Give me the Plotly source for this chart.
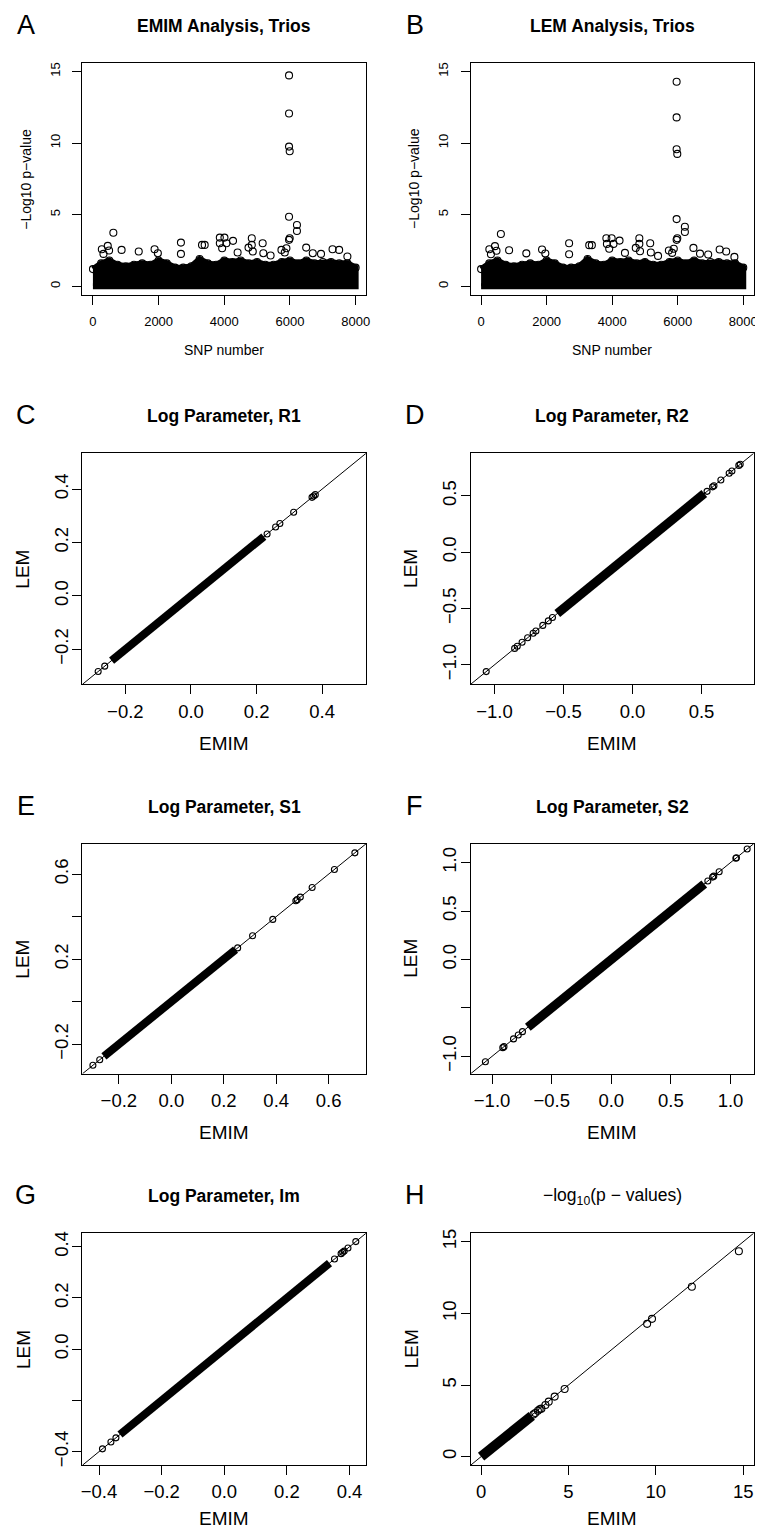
import plotly.graph_objects as go

# page is 763x1537; the HTML body has an 8px margin, so the figure itself is
# drawn slightly smaller and every page-pixel position is shifted by OFF.
OFF = 8
W, H = 754, 1520
FONT = "Liberation Sans, Arial, Helvetica, sans-serif"

# ------------------------------------------------------------------ data
snp_ticks = [0, 2000, 4000, 6000, 8000]
p_ticks = [0, 5, 10, 15]

# dense band of SNP -log10 p-values: upper envelope read per 250-SNP bin
band_snp = [0, 250, 500, 750, 1000, 1250, 1500, 1750, 2000, 2250, 2500, 2750, 3000,
            3250, 3500, 3750, 4000, 4250, 4500, 4750, 5000, 5250, 5500, 5750, 6000,
            6250, 6500, 6750, 7000, 7250, 7500, 7750, 8000]
emim_band_top = [1.2, 1.6, 1.8, 1.5, 1.4, 1.5, 1.6, 1.5, 1.8, 1.6, 1.3, 1.3, 1.4,
                 1.9, 1.6, 1.5, 1.8, 1.7, 1.8, 1.6, 1.7, 1.5, 1.5, 1.7, 1.8,
                 1.6, 1.8, 1.6, 1.7, 1.7, 1.6, 1.6, 1.3]
lem_band_top = [1.2, 1.6, 1.8, 1.5, 1.4, 1.5, 1.6, 1.5, 1.8, 1.6, 1.3, 1.3, 1.4,
                1.9, 1.6, 1.5, 1.8, 1.7, 1.8, 1.6, 1.7, 1.5, 1.5, 1.7, 1.8,
                1.6, 1.8, 1.6, 1.7, 1.7, 1.6, 1.6, 1.3]

# individually visible SNPs above the band
emim_out_snp = [5972, 5972, 5972, 5992, 5972, 5992, 5972, 6213, 6213, 622,
                271, 452, 492, 321, 873, 1395, 1877, 1977, 2680, 2680, 3322, 3403,
                3864, 4005, 3864, 4065, 3935, 4266, 4406, 4738, 4838, 4838, 4868,
                5169, 5189, 5410, 5741, 5892, 5842, 6494, 6695, 6946, 7297, 7498, 7749]
emim_out_p = [14.72, 12.06, 9.75, 9.43, 4.85, 3.35, 3.24, 4.28, 3.86, 3.74,
              2.59, 2.82, 2.50, 2.26, 2.54, 2.43, 2.59, 2.31, 3.05, 2.26, 2.89, 2.89,
              3.40, 3.40, 3.00, 3.00, 2.66, 3.17, 2.36, 2.70, 3.35, 2.89, 2.43,
              3.00, 2.31, 2.15, 2.54, 2.66, 2.36, 2.70, 2.31, 2.26, 2.59, 2.54, 2.08]
lem_out_snp = [5967, 5967, 5967, 5987, 5967, 5987, 5967, 6219, 6219, 604,
               252, 423, 470, 300, 855, 1380, 1860, 1960, 2686, 2686, 3300, 3380,
               3823, 3984, 3840, 4040, 3910, 4225, 4390, 4720, 4829, 4829, 4850,
               5161, 5180, 5400, 5730, 5880, 5830, 6480, 6680, 6930, 7280, 7480, 7730]
lem_out_p = [14.28, 11.79, 9.57, 9.24, 4.69, 3.35, 3.24, 4.16, 3.79, 3.65,
             2.59, 2.80, 2.48, 2.24, 2.52, 2.30, 2.57, 2.29, 3.00, 2.24, 2.87, 2.87,
             3.35, 3.35, 2.96, 2.96, 2.62, 3.19, 2.33, 2.68, 3.35, 2.96, 2.45,
             3.00, 2.36, 2.12, 2.50, 2.62, 2.33, 2.68, 2.28, 2.22, 2.57, 2.43, 2.05]

# log-parameter comparisons: ends of the dense run + sparse points (EMIM, LEM)
r1_dense_emim = [-0.242, 0.222]
r1_dense_lem = [-0.242, 0.222]
r1_emim = [-0.283, -0.263, 0.232, 0.258, 0.271, 0.313, 0.369, 0.374, 0.379]
r1_lem = [-0.283, -0.263, 0.232, 0.258, 0.271, 0.313, 0.369, 0.374, 0.379]

r2_dense_emim = [-0.545, 0.52]
r2_dense_lem = [-0.545, 0.52]
r2_emim = [-1.06, -0.854, -0.835, -0.80, -0.76, -0.72, -0.70, -0.65, -0.61, -0.58,
           0.54, 0.58, 0.59, 0.64, 0.70, 0.72, 0.77, 0.78]
r2_lem = [-1.06, -0.854, -0.835, -0.80, -0.76, -0.72, -0.70, -0.65, -0.61, -0.58,
          0.54, 0.58, 0.59, 0.64, 0.70, 0.72, 0.77, 0.78]

s1_dense_emim = [-0.257, 0.245]
s1_dense_lem = [-0.257, 0.245]
s1_emim = [-0.299, -0.273, 0.253, 0.31, 0.387, 0.475, 0.48, 0.492, 0.537, 0.622, 0.70]
s1_lem = [-0.299, -0.273, 0.253, 0.31, 0.387, 0.475, 0.48, 0.492, 0.537, 0.622, 0.70]

s2_dense_emim = [-0.70, 0.78]
s2_dense_lem = [-0.70, 0.78]
s2_emim = [-1.056, -0.91, -0.90, -0.82, -0.78, -0.745, 0.81, 0.85, 0.86, 0.905,
           1.045, 1.05, 1.14]
s2_lem = [-1.056, -0.91, -0.90, -0.82, -0.78, -0.745, 0.81, 0.85, 0.86, 0.905,
          1.045, 1.05, 1.14]

im_dense_emim = [-0.333, 0.336]
im_dense_lem = [-0.333, 0.336]
im_emim = [-0.389, -0.362, -0.346, 0.352, 0.373, 0.378, 0.383, 0.395, 0.42]
im_lem = [-0.389, -0.362, -0.346, 0.352, 0.373, 0.378, 0.383, 0.395, 0.42]

pv_dense_emim = [0.0, 2.9]
pv_dense_lem = [0.0, 2.85]
pv_emim = [3.0, 3.1, 3.25, 3.35, 3.45, 3.68, 3.87, 4.21, 4.78, 9.5, 9.78, 12.06, 14.75]
pv_lem = [2.95, 3.05, 3.2, 3.3, 3.35, 3.60, 3.84, 4.19, 4.72, 9.27, 9.62, 11.86, 14.34]

# ------------------------------------------------------------------ layout (page px)
LEFT = (81, 367)
RIGHT = (472.3, 757.7)
ROWS = [(59, 292), (451, 683), (843, 1074), (1234, 1467)]


def fx(px):
    return (px - OFF) / W


def fy(py):
    return 1 - (py - OFF) / H


def fmt(v):
    if isinstance(v, int):
        return str(v)
    return ("%.1f" % v).replace("-", "\u2212")


panels = [
    dict(letter="A", title="<b>EMIM Analysis, Trios</b>", col=LEFT, row=ROWS[0],
         xr=[-320, 8320], yr=[-0.6, 15.6], xt=snp_ticks, yt=p_ticks, ysk=(),
         xlab="SNP number", ylab="\u2212Log10 p\u2212value", small=True),
    dict(letter="B", title="<b>LEM Analysis, Trios</b>", col=RIGHT, row=ROWS[0],
         xr=[-320, 8320], yr=[-0.6, 15.6], xt=snp_ticks, yt=p_ticks, ysk=(),
         xlab="SNP number", ylab="\u2212Log10 p\u2212value", small=True),
    dict(letter="C", title="<b>Log Parameter, R1</b>", col=LEFT, row=ROWS[1],
         xr=[-0.331, 0.534], yr=[-0.331, 0.534], xt=[-0.2, 0.0, 0.2, 0.4],
         yt=[-0.2, 0.0, 0.2, 0.4], ysk=(), xlab="EMIM", ylab="LEM", small=False,
         dense=(r1_dense_emim, r1_dense_lem), pts=(r1_emim, r1_lem), dw=8),
    dict(letter="D", title="<b>Log Parameter, R2</b>", col=RIGHT, row=ROWS[1],
         xr=[-1.173, 0.878], yr=[-1.173, 0.878], xt=[-1.0, -0.5, 0.0, 0.5],
         yt=[-1.0, -0.5, 0.0, 0.5], ysk=(), xlab="EMIM", ylab="LEM", small=False,
         dense=(r2_dense_emim, r2_dense_lem), pts=(r2_emim, r2_lem), dw=9),
    dict(letter="E", title="<b>Log Parameter, S1</b>", col=LEFT, row=ROWS[2],
         xr=[-0.339, 0.743], yr=[-0.339, 0.743], xt=[-0.2, 0.0, 0.2, 0.4, 0.6],
         yt=[-0.2, 0.2, 0.6], ysk=(0.0, 0.4), xlab="EMIM", ylab="LEM",
         small=False, dense=(s1_dense_emim, s1_dense_lem), pts=(s1_emim, s1_lem), dw=8),
    dict(letter="F", title="<b>Log Parameter, S2</b>", col=RIGHT, row=ROWS[2],
         xr=[-1.18, 1.195], yr=[-1.18, 1.195], xt=[-1.0, -0.5, 0.0, 0.5, 1.0],
         yt=[-1.0, 0.0, 0.5, 1.0], ysk=(-0.5,), xlab="EMIM", ylab="LEM",
         small=False, dense=(s2_dense_emim, s2_dense_lem), pts=(s2_emim, s2_lem), dw=9),
    dict(letter="G", title="<b>Log Parameter, Im</b>", col=LEFT, row=ROWS[3],
         xr=[-0.453, 0.453], yr=[-0.453, 0.453], xt=[-0.4, -0.2, 0.0, 0.2, 0.4],
         yt=[-0.4, 0.0, 0.2, 0.4], ysk=(-0.2,), xlab="EMIM", ylab="LEM",
         small=False, dense=(im_dense_emim, im_dense_lem), pts=(im_emim, im_lem), dw=8),
    dict(letter="H", title="\u2212log<sub>10</sub>(p \u2212 values)", col=RIGHT, row=ROWS[3],
         xr=[-0.6, 15.6], yr=[-0.6, 15.6], xt=p_ticks, yt=p_ticks, ysk=(),
         xlab="EMIM", ylab="LEM", small=False,
         dense=(pv_dense_emim, pv_dense_lem), pts=(pv_emim, pv_lem), dw=10),
]

fig = go.Figure()
layout = dict(width=W, height=H, margin=dict(l=0, r=0, t=0, b=0),
              paper_bgcolor="white", plot_bgcolor="white", showlegend=False,
              font=dict(family=FONT, color="black"))
annotations = []


def circles(size):
    return dict(symbol="circle-open", size=size, color="black",
                line=dict(width=1.1, color="black"))


for i, p in enumerate(panels, start=1):
    xa, ya = ("x%d" % i if i > 1 else "x"), ("y%d" % i if i > 1 else "y")
    tick_size = 13 if p["small"] else 18.5
    xstand = 6 if p["small"] else 1
    ystand = 7 if p["small"] else -3
    common = dict(showline=True, mirror=True, linecolor="black", linewidth=1,
                  ticks="outside", ticklen=9, tickwidth=1, tickcolor="black",
                  showgrid=False, zeroline=False,
                  tickfont=dict(family=FONT, size=tick_size, color="black"))
    layout["xaxis%d" % i] = dict(common, domain=[fx(p["col"][0]), fx(p["col"][1])],
                                 range=p["xr"], anchor=ya, tickmode="array",
                                 tickvals=p["xt"], ticktext=[fmt(v) for v in p["xt"]],
                                 ticklabelstandoff=xstand)
    yax = dict(common, domain=[fy(p["row"][1]), fy(p["row"][0])], range=p["yr"],
               anchor=xa, tickmode="array", tickvals=p["yt"],
               ticktext=[fmt(v) for v in p["yt"]], tickangle=-90,
               ticklabelstandoff=ystand)
    if p["ysk"]:
        yax["minor"] = dict(tickmode="array", tickvals=list(p["ysk"]), ticks="outside",
                            ticklen=9, tickwidth=1, tickcolor="black", showgrid=False)
    layout["yaxis%d" % i] = yax

    if p["small"]:
        top = emim_band_top if p["letter"] == "A" else lem_band_top
        osnp = emim_out_snp if p["letter"] == "A" else lem_out_snp
        op = emim_out_p if p["letter"] == "A" else lem_out_p
        fig.add_trace(go.Scatter(x=band_snp + band_snp[::-1],
                                 y=top + [0.0] * len(band_snp),
                                 mode="lines", fill="toself", fillcolor="black",
                                 line=dict(color="black", width=6),
                                 xaxis=xa, yaxis=ya, hoverinfo="skip"))
        fig.add_trace(go.Scatter(x=band_snp, y=top, mode="markers",
                                 marker=circles(7), xaxis=xa, yaxis=ya))
        fig.add_trace(go.Scatter(x=osnp, y=op, mode="markers", marker=circles(7),
                                 xaxis=xa, yaxis=ya))
    else:
        de, dl = p["dense"]
        fig.add_trace(go.Scatter(x=de, y=dl, mode="lines",
                                 line=dict(color="black", width=p["dw"]),
                                 xaxis=xa, yaxis=ya))
        pe, pl = p["pts"]
        fig.add_trace(go.Scatter(x=pe, y=pl, mode="markers",
                                 marker=circles(7 if p["letter"] == "H" else 6),
                                 xaxis=xa, yaxis=ya))
        # identity line y = x across the plotting region
        fig.add_trace(go.Scatter(x=p["xr"], y=p["yr"], mode="lines",
                                 line=dict(color="black", width=1),
                                 xaxis=xa, yaxis=ya))

    cx = (p["col"][0] + p["col"][1]) / 2
    cy = (p["row"][0] + p["row"][1]) / 2
    tx = 24 if p["col"] is LEFT else 416
    title_y = p["row"][0] - 37
    annotations.append(dict(text=p["letter"], x=fx(tx), y=fy(title_y - 1),
                            xref="paper", yref="paper", showarrow=False,
                            xanchor="center", yanchor="middle",
                            font=dict(family=FONT, size=27)))
    annotations.append(dict(text=p["title"], x=fx(cx), y=fy(title_y),
                            xref="paper", yref="paper", showarrow=False,
                            xanchor="center", yanchor="middle",
                            font=dict(family=FONT, size=17.5)))
    lab_size = 14 if p["small"] else 19
    xlab_y = p["row"][1] + (55 if p["small"] else 59)
    xlab_y = min(xlab_y, OFF + H - 8)
    ylab_off = 57 if p["small"] else 60
    annotations.append(dict(text=p["xlab"], x=fx(cx), y=fy(xlab_y),
                            xref="paper", yref="paper", showarrow=False,
                            xanchor="center", yanchor="middle",
                            font=dict(family=FONT, size=lab_size)))
    annotations.append(dict(text=p["ylab"], x=fx(p["col"][0] - ylab_off), y=fy(cy),
                            xref="paper", yref="paper", showarrow=False, textangle=-90,
                            xanchor="center", yanchor="middle",
                            font=dict(family=FONT, size=lab_size)))

layout["annotations"] = annotations
fig.update_layout(**layout)
fig.write_html("out.html")
